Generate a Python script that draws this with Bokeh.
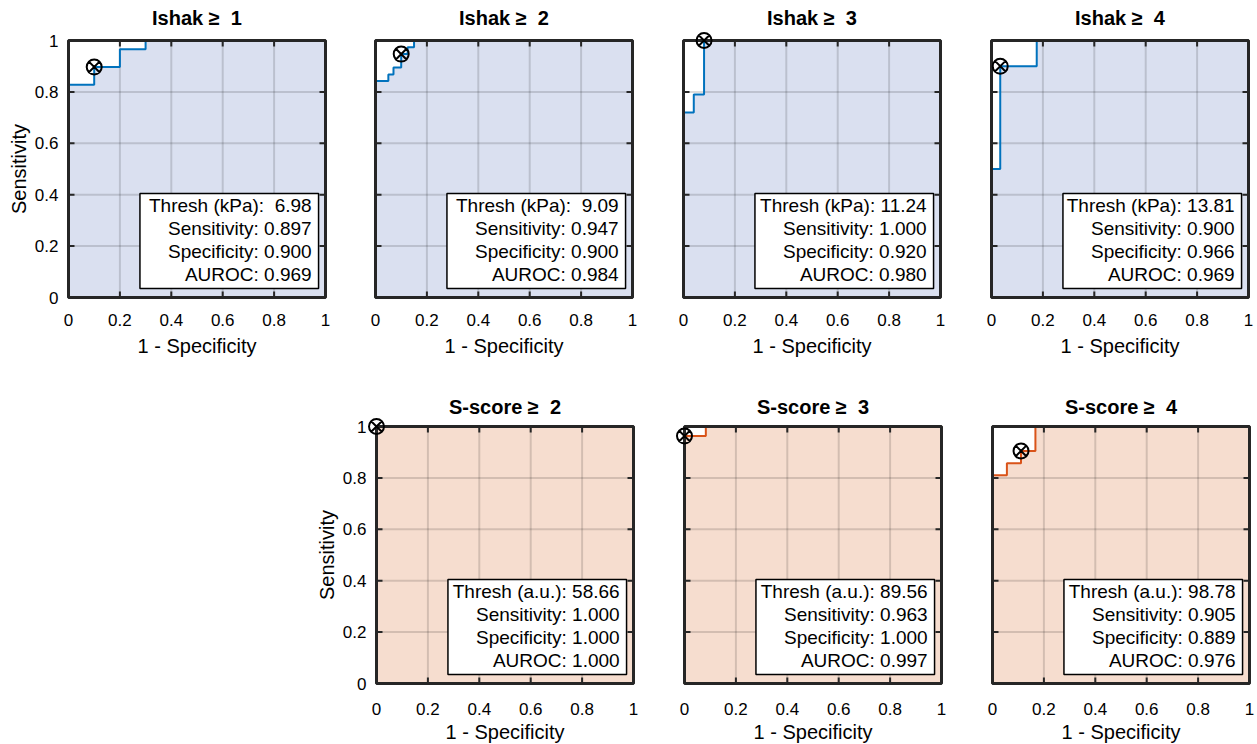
from bokeh.plotting import figure
from bokeh.layouts import column, row
from bokeh.models import Range1d, FixedTicker, Spacer, ColumnDataSource
from bokeh.core.properties import value
from bokeh.embed import file_html
from bokeh.resources import INLINE

# ---------------- data ----------------
tick_values = [0, 0.2, 0.4, 0.6, 0.8, 1]
tick_labels = ["0", "0.2", "0.4", "0.6", "0.8", "1"]

NB = "\u00a0"
titles = ["Ishak \u2265" + NB + " 1", "Ishak \u2265" + NB + " 2", "Ishak \u2265" + NB + " 3",
          "Ishak \u2265" + NB + " 4",
          "S-score \u2265" + NB + " 2", "S-score \u2265" + NB + " 3", "S-score \u2265" + NB + " 4"]

# ROC curve vertices (1 - specificity, sensitivity)
ishak1_fpr = [0, 0, 0.1, 0.1, 0.2, 0.2, 0.3, 0.3, 1]
ishak1_tpr = [0, 0.828, 0.828, 0.897, 0.897, 0.966, 0.966, 1, 1]
ishak2_fpr = [0, 0, 0.05, 0.05, 0.07, 0.07, 0.1, 0.1, 0.125, 0.125, 0.15, 0.15, 1]
ishak2_tpr = [0, 0.842, 0.842, 0.868, 0.868, 0.895, 0.895, 0.947, 0.947, 0.974, 0.974, 1, 1]
ishak3_fpr = [0, 0, 0.04, 0.04, 0.08, 0.08, 1]
ishak3_tpr = [0, 0.72, 0.72, 0.79, 0.79, 1, 1]
ishak4_fpr = [0, 0, 0.034, 0.034, 0.176, 0.176, 1]
ishak4_tpr = [0, 0.5, 0.5, 0.9, 0.9, 1, 1]
sscore2_fpr = [0, 0, 1]
sscore2_tpr = [0, 1, 1]
sscore3_fpr = [0, 0, 0.083, 0.083, 1]
sscore3_tpr = [0, 0.963, 0.963, 1, 1]
sscore4_fpr = [0, 0, 0.056, 0.056, 0.111, 0.111, 0.167, 0.167, 1]
sscore4_tpr = [0, 0.810, 0.810, 0.857, 0.857, 0.905, 0.905, 1, 1]

curves_fpr = [ishak1_fpr, ishak2_fpr, ishak3_fpr, ishak4_fpr, sscore2_fpr, sscore3_fpr, sscore4_fpr]
curves_tpr = [ishak1_tpr, ishak2_tpr, ishak3_tpr, ishak4_tpr, sscore2_tpr, sscore3_tpr, sscore4_tpr]

# operating points
op_fpr = [0.1, 0.1, 0.08, 0.034, 0.0, 0.0, 0.111]
op_tpr = [0.897, 0.947, 1.0, 0.9, 1.0, 0.963, 0.905]

thresh_name = ["Thresh (kPa):", "Thresh (kPa):", "Thresh (kPa):", "Thresh (kPa):",
               "Thresh (a.u.):", "Thresh (a.u.):", "Thresh (a.u.):"]
thresh_vals = ["6.98", "9.09", "11.24", "13.81", "58.66", "89.56", "98.78"]
sens_vals = ["0.897", "0.947", "1.000", "0.900", "1.000", "0.963", "0.905"]
spec_vals = ["0.900", "0.900", "0.920", "0.966", "1.000", "1.000", "0.889"]
auroc_vals = ["0.969", "0.984", "0.980", "0.969", "1.000", "0.997", "0.976"]

# ---------------- style ----------------
FONT = "Liberation Sans"
BLUE = "#0072BD"
ORANGE = "#D95319"
BLUE_FILL = "#DAE0F0"
ORANGE_FILL = "#F6DDCF"
DARK = "#262626"
BOX_PX = 257          # size of the axes box in pixels
PAD_PX = 9            # free space around the box so edge markers are not cut
PAD = PAD_PX / BOX_PX
TICK_LEN = 6 / BOX_PX


def make_panel(i, left, right, top, bottom, show_y, title_standoff, xlab_standoff, xaxis_standoff):
    color = BLUE if i < 4 else ORANGE
    fill = BLUE_FILL if i < 4 else ORANGE_FILL
    lo, hi = tick_values[0], tick_values[-1]
    p = figure(frame_width=BOX_PX + 2 * PAD_PX, frame_height=BOX_PX + 2 * PAD_PX,
               x_range=Range1d(lo - PAD, hi + PAD), y_range=Range1d(lo - PAD, hi + PAD),
               min_border_left=left, min_border_right=right,
               min_border_top=top, min_border_bottom=bottom,
               output_backend="svg", toolbar_location=None,
               title=titles[i])
    p.title.align = "center"
    p.title.text_font = FONT
    p.title.text_font_size = "20px"
    p.title.text_font_style = "bold"
    p.title.text_color = "black"
    p.title.standoff = title_standoff

    p.background_fill_color = "white"
    p.border_fill_color = "white"
    p.outline_line_color = None
    p.grid.visible = False

    ticker = FixedTicker(ticks=tick_values)
    overrides = {v: s for v, s in zip(tick_values, tick_labels)}
    blank = {v: "" for v in tick_values}

    for ax in (p.xaxis[0], p.yaxis[0]):
        ax.ticker = ticker
        ax.axis_line_color = None
        ax.major_tick_line_color = None
        ax.major_tick_in = 0
        ax.major_tick_out = 0
        ax.minor_tick_line_color = None
        ax.major_label_text_font = FONT
        ax.major_label_text_font_size = "17px"
        ax.major_label_text_color = "black"
        ax.axis_label_text_font = FONT
        ax.axis_label_text_font_size = "20px"
        ax.axis_label_text_font_style = "normal"
        ax.axis_label_text_color = "black"

    p.xaxis[0].major_label_overrides = overrides
    p.xaxis[0].major_label_standoff = xlab_standoff
    p.xaxis[0].axis_label = "1 - Specificity"
    p.xaxis[0].axis_label_standoff = xaxis_standoff

    if show_y:
        p.yaxis[0].major_label_overrides = overrides
        p.yaxis[0].major_label_standoff = 1
        p.yaxis[0].axis_label = "Sensitivity"
        p.yaxis[0].axis_label_standoff = 2
    else:
        p.yaxis[0].major_label_overrides = blank
        p.yaxis[0].major_label_standoff = 0
        p.yaxis[0].major_label_text_font_size = "1px"

    # area under the ROC curve
    src = ColumnDataSource(dict(x=curves_fpr[i], y=curves_tpr[i]))
    p.varea(x="x", y1=lo, y2="y", source=src, fill_color=fill)

    # grid lines inside the axes box
    n = len(tick_values)
    p.segment(x0=tick_values, y0=[lo] * n, x1=tick_values, y1=[hi] * n,
              line_color="black", line_alpha=0.14, line_width=2)
    p.segment(x0=[lo] * n, y0=tick_values, x1=[hi] * n, y1=tick_values,
              line_color="black", line_alpha=0.14, line_width=2)

    # ROC curve
    p.line(x="x", y="y", source=src, line_color=color, line_width=2)

    # statistics box
    p.quad(left=0.278, right=0.973, bottom=0.035, top=0.405,
           fill_color="white", line_color="black", line_width=1.5)
    pad = NB + NB if len(thresh_vals[i]) < 5 else " "
    lines = [thresh_name[i] + pad + thresh_vals[i],
             "Sensitivity: " + sens_vals[i],
             "Specificity: " + spec_vals[i],
             "AUROC: " + auroc_vals[i]]
    p.text(x=[0.946] * 4, y=[0.358, 0.268, 0.179, 0.089], text=lines,
           text_align="right", text_baseline="middle",
           text_font=value(FONT), text_font_size="19px", text_color="black")

    # inward tick marks on all four sides
    p.segment(x0=tick_values, y0=[lo] * n, x1=tick_values, y1=[lo + TICK_LEN] * n,
              line_color=DARK, line_width=2)
    p.segment(x0=tick_values, y0=[hi] * n, x1=tick_values, y1=[hi - TICK_LEN] * n,
              line_color=DARK, line_width=2)
    p.segment(x0=[lo] * n, y0=tick_values, x1=[lo + TICK_LEN] * n, y1=tick_values,
              line_color=DARK, line_width=2)
    p.segment(x0=[hi] * n, y0=tick_values, x1=[hi - TICK_LEN] * n, y1=tick_values,
              line_color=DARK, line_width=2)

    # axes box
    p.quad(left=lo, right=hi, bottom=lo, top=hi, fill_color=None,
           line_color=DARK, line_width=3)

    # operating point
    p.scatter(x=[op_fpr[i]], y=[op_tpr[i]], marker="circle_x", size=15,
              fill_color=None, line_color="black", line_width=2)
    return p


f1 = make_panel(0, 59, 16, 31, 64, True, 5, 7, 6)
f2 = make_panel(1, 16, 17, 31, 64, False, 5, 7, 6)
f3 = make_panel(2, 16, 17, 31, 64, False, 5, 7, 6)
f4 = make_panel(3, 16, 0, 31, 64, False, 5, 7, 6)
f5 = make_panel(4, 51, 16, 47, 52, True, 0, 10, 3)
f6 = make_panel(5, 17, 16, 47, 52, False, 0, 10, 3)
f7 = make_panel(6, 17, 0, 47, 52, False, 0, 10, 3)

layout = column(row(f1, f2, f3, f4), row(Spacer(width=312, height=10), f5, f6, f7))

html = file_html(layout, INLINE)
html = html.replace("</head>", "<style>html,body{overflow:hidden;}</style></head>", 1)
open("out.html", "w").write(html)
